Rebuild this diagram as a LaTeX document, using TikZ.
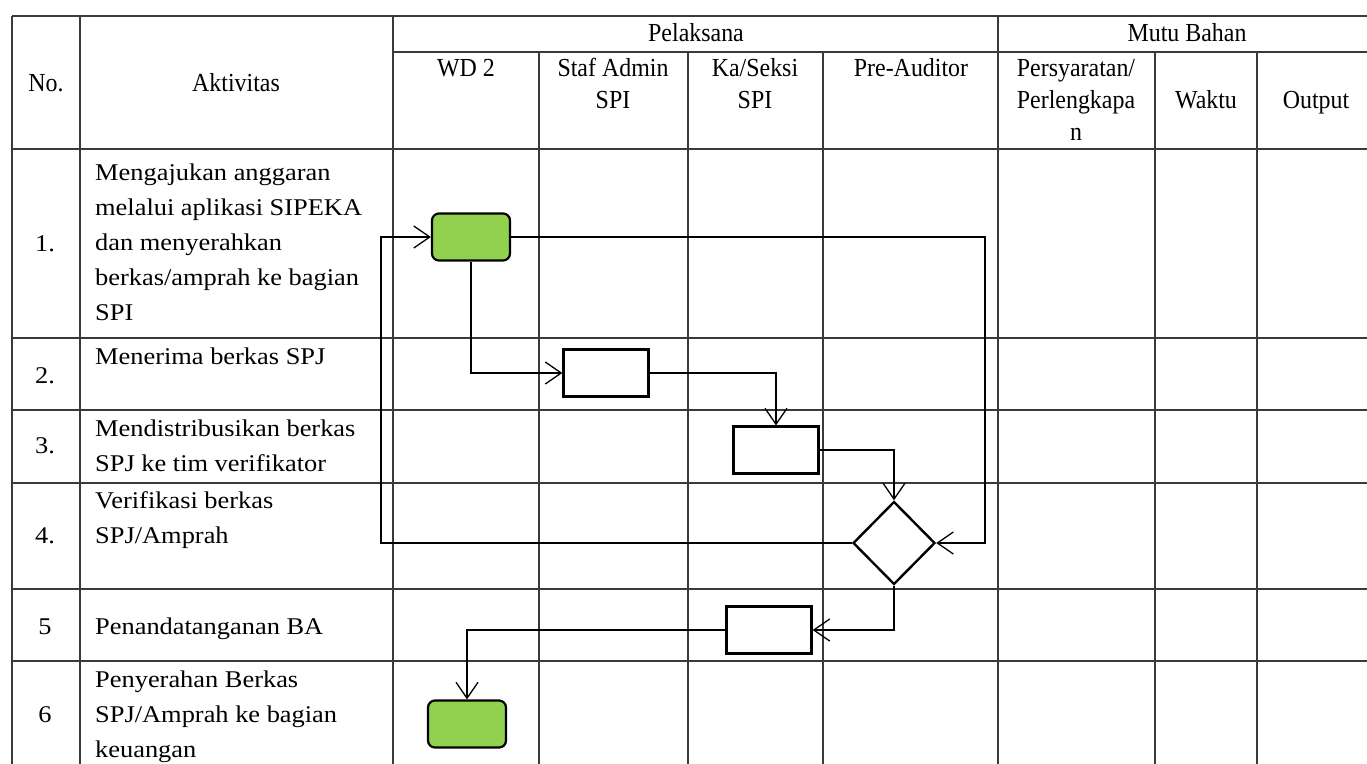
\documentclass[tikz,border=0pt]{standalone}
\usepackage{fontspec}
\setmainfont{Liberation Serif}
\newfontfamily\bodyfont[FakeStretch=1.1]{Liberation Serif}
\newfontfamily\headfont[FakeStretch=0.92]{Liberation Serif}
\usetikzlibrary{arrows.meta,shapes.geometric}
\definecolor{boxgreen}{HTML}{92D050}
\definecolor{gridc}{HTML}{3A3A3A}
\tikzset{
  gridline/.style={draw=gridc, line width=1.4pt},
  greenbox/.style={draw=black, line width=2.2pt, rounded corners=7pt, fill=boxgreen, minimum width=78pt, minimum height=47pt, inner sep=0pt},
  whitebox/.style={draw=black, line width=2.2pt, fill=white, minimum width=85pt, minimum height=47pt, inner sep=0pt},
  decision/.style={diamond, draw=black, line width=2.4pt, fill=white, minimum width=82pt, minimum height=83pt, inner sep=0pt},
  conn/.style={draw=black, line width=1.3pt, -{Straight Barb[length=16pt,width=22pt,line width=1.3pt]}},
  head/.style={font=\headfont\fontsize{26}{32}\selectfont, inner sep=0pt, align=center, anchor=base},
  body/.style={font=\bodyfont\fontsize{24}{35}\selectfont, inner sep=0pt, align=left, anchor=base west},
  num/.style={font=\bodyfont\fontsize{24}{35}\selectfont, inner sep=0pt, anchor=base},
}
\begin{document}
\begin{tikzpicture}[x=1pt,y=-1pt]
\useasboundingbox (0,0) rectangle (1367,763);
\clip (0,0) rectangle (1367,763);
% grid
\foreach \y in {16,149,338,410,483,589,661} \draw[gridline] (12,\y) -- (1380,\y);
\draw[gridline] (393,52) -- (1380,52);
\foreach \x in {12,80,393,998} \draw[gridline] (\x,16) -- (\x,770);
\foreach \x in {539,688,823,1155,1257} \draw[gridline] (\x,52) -- (\x,770);
% header texts (anchor base = baseline of last line)
\node[head] (hno) at (46,91) {No.};
\node[head] (hakt) at (236,91) {Aktivitas};
\node[head] (hpel) at (696,41) {Pelaksana};
\node[head] (hmutu) at (1187,41) {Mutu Bahan};
\node[head] (hwd) at (466,76) {WD 2};
\node[head] (hstaf) at (613,108) {Staf Admin\\SPI};
\node[head] (hka) at (755,108) {Ka/Seksi\\SPI};
\node[head] (hpre) at (911,76) {Pre-Auditor};
\node[head] (hpers) at (1076,140) {Persyaratan/\\Perlengkapa\\n};
\node[head] (hwak) at (1206,108) {Waktu};
\node[head] (hout) at (1316,108) {Output};
% numbers
\node[num] (n1) at (45,251) {1.};
\node[num] (n2) at (45,383) {2.};
\node[num] (n3) at (45,453) {3.};
\node[num] (n4) at (45,543) {4.};
\node[num] (n5) at (45,634) {5};
\node[num] (n6) at (45,722) {6};
% activities (anchor base west = baseline of last line)
\node[body] (a1) at (95,320) {Mengajukan anggaran\\melalui aplikasi SIPEKA\\dan menyerahkan\\berkas/amprah ke bagian\\SPI};
\node[body] (a2) at (95,364) {Menerima berkas SPJ};
\node[body] (a3) at (95,471) {Mendistribusikan berkas\\SPJ ke tim verifikator};
\node[body] (a4) at (95,543) {Verifikasi berkas\\SPJ/Amprah};
\node[body] (a5) at (95,634) {Penandatanganan BA};
\node[body] (a6) at (95,757) {Penyerahan Berkas\\SPJ/Amprah ke bagian\\keuangan};
% flow nodes
\node[greenbox] (g1) at (471,237) {};
\node[whitebox] (r2) at (606,373) {};
\node[whitebox] (r3) at (776,450) {};
\node[decision] (d4) at (894,543) {};
\node[whitebox] (r5) at (769,630) {};
\node[greenbox] (g6) at (467,724) {};
\coordinate (c1) at (985,237);
\coordinate (c2) at (381,543);
% connectors
\draw[conn] (g1.south) |- (r2.west);
\draw[conn] (r2.east) -| (r3.north);
\draw[conn] (r3.east) -| (d4.north);
\draw[conn] (g1.east) -- (c1) |- (d4.east);
\draw[conn] (d4.west) -- (c2) |- (g1.west);
\draw[conn] (d4.south) |- (r5.east);
\draw[conn] (r5.west) -| (g6.north);
\end{tikzpicture}
\end{document}
